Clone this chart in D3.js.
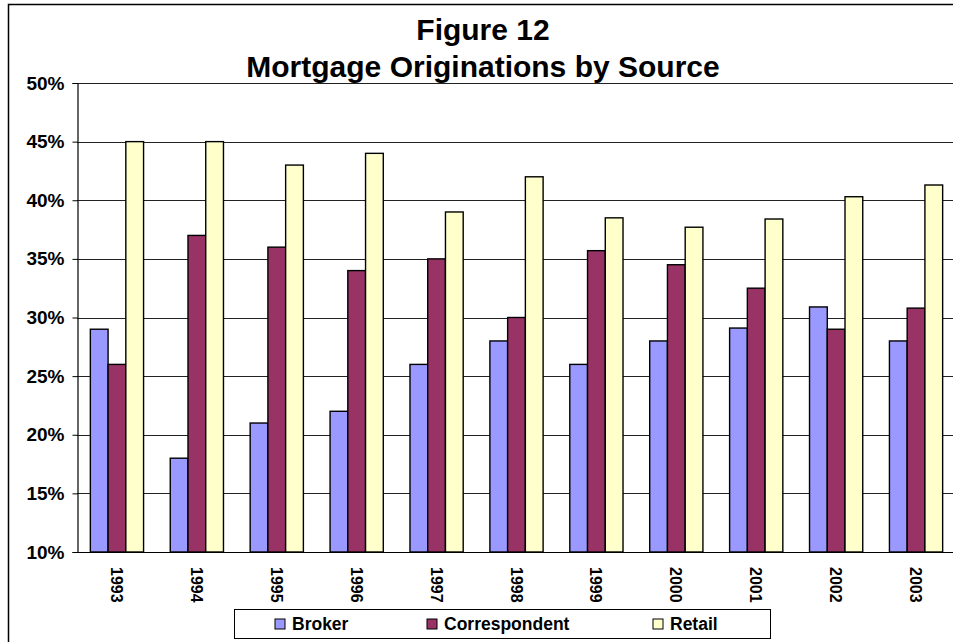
<!DOCTYPE html>
<html>
<head>
<meta charset="utf-8">
<script src="https://cdn.jsdelivr.net/npm/d3@7"></script>
<style>
  body { margin: 0; background: #fff; overflow: hidden; }
  svg { display: block; font-family: Arial, "Liberation Sans", sans-serif; font-weight: bold; }
</style>
</head>
<body>
<div id="chart"></div>
<script>
// Chart data
const years = ["1993", "1994", "1995", "1996", "1997", "1998", "1999", "2000", "2001", "2002", "2003"];
const seriesNames = ["Broker", "Correspondent", "Retail"];
const broker = [29, 18, 21, 22, 26, 28, 26, 28, 29.1, 30.9, 28];
const correspondent = [26, 37, 36, 34, 35, 30, 35.7, 34.5, 32.5, 29, 30.8];
const retail = [45, 45, 43, 44, 39, 42, 38.5, 37.7, 38.4, 40.3, 41.3];
const yTicks = [10, 15, 20, 25, 30, 35, 40, 45, 50];
const colors = ["#9999FF", "#993366", "#FFFFCC"];

const values = [broker, correspondent, retail];

const width = 953;
const height = 642;
const plot = { left: 77, top: 83, right: 956, bottom: 552 };

const svg = d3.select("#chart").append("svg")
    .attr("width", width)
    .attr("height", height);

// Outer chart frame (runs off the right and bottom edges like the source)
svg.append("rect")
    .attr("x", 8.5)
    .attr("y", 4.5)
    .attr("width", 980)
    .attr("height", 680)
    .attr("fill", "#fff")
    .attr("stroke", "#000")
    .attr("stroke-width", 1.5);

// Title
svg.append("text")
    .attr("x", 483)
    .attr("y", 40)
    .attr("text-anchor", "middle")
    .style("font-size", "30px")
    .text("Figure 12");
svg.append("text")
    .attr("x", 483)
    .attr("y", 77)
    .attr("text-anchor", "middle")
    .style("font-size", "30px")
    .text("Mortgage Originations by Source");

// Scales
const x0 = d3.scaleBand()
    .domain(years)
    .range([plot.left, plot.right])
    .paddingInner(0.334)
    .paddingOuter(0.167);

const x1 = d3.scaleBand()
    .domain(seriesNames)
    .range([0, x0.bandwidth()]);

const y = d3.scaleLinear()
    .domain([10, 50])
    .range([plot.bottom, plot.top]);

// Gridlines
svg.append("g")
    .selectAll("line")
    .data(yTicks)
    .enter()
    .append("line")
    .attr("x1", plot.left)
    .attr("x2", plot.right)
    .attr("y1", d => Math.round(y(d)) + 0.5)
    .attr("y2", d => Math.round(y(d)) + 0.5)
    .attr("stroke", "#222")
    .attr("stroke-width", 1);

// Y axis
const yAxis = svg.append("g")
    .attr("transform", `translate(${plot.left + 0.5},0)`)
    .call(d3.axisLeft(y).tickValues(yTicks).tickSize(5).tickPadding(8).tickFormat(d => d + "%"));
yAxis.select(".domain").attr("stroke", "#000").attr("stroke-width", 1.2);
yAxis.selectAll(".tick line").attr("stroke", "#000");
yAxis.selectAll(".tick text")
    .attr("fill", "#000")
    .style("font-size", "19px")
    .style("font-family", "Arial, 'Liberation Sans', sans-serif")
    .style("font-weight", "bold");

// Bars
const groups = svg.append("g")
    .selectAll("g")
    .data(years)
    .enter()
    .append("g")
    .attr("transform", d => `translate(${x0(d)},0)`);

groups.selectAll("rect")
    .data((d, i) => seriesNames.map((s, j) => ({ series: s, value: values[j][i], color: colors[j] })))
    .enter()
    .append("rect")
    .attr("x", d => x1(d.series))
    .attr("y", d => y(d.value))
    .attr("width", x1.bandwidth())
    .attr("height", d => plot.bottom - y(d.value))
    .attr("fill", d => d.color)
    .attr("stroke", "#000")
    .attr("stroke-width", 1.4);

// X axis line
svg.append("line")
    .attr("x1", plot.left)
    .attr("x2", plot.right)
    .attr("y1", plot.bottom + 0.5)
    .attr("y2", plot.bottom + 0.5)
    .attr("stroke", "#000")
    .attr("stroke-width", 1.2);

// Year labels, rotated to read top-to-bottom
svg.append("g")
    .selectAll("text")
    .data(years)
    .enter()
    .append("text")
    .attr("transform", d => `translate(${x0(d) + x0.bandwidth() / 2 - 6},${plot.bottom + 15}) rotate(90)`)
    .style("font-size", "16px")
    .text(d => d);

// Legend
const legend = svg.append("g");
legend.append("rect")
    .attr("x", 234.5)
    .attr("y", 609.5)
    .attr("width", 536)
    .attr("height", 29)
    .attr("fill", "#fff")
    .attr("stroke", "#000")
    .attr("stroke-width", 1);

const legendX = [275, 427, 653];
const item = legend.selectAll("g.item")
    .data(seriesNames)
    .enter()
    .append("g")
    .attr("class", "item")
    .attr("transform", (d, i) => `translate(${legendX[i]},619)`);

item.append("rect")
    .attr("width", 10)
    .attr("height", 10)
    .attr("fill", (d, i) => colors[i])
    .attr("stroke", "#000")
    .attr("stroke-width", 1);

item.append("text")
    .attr("x", 17)
    .attr("y", 11)
    .style("font-size", "17.5px")
    .text(d => d);
</script>
</body>
</html>
